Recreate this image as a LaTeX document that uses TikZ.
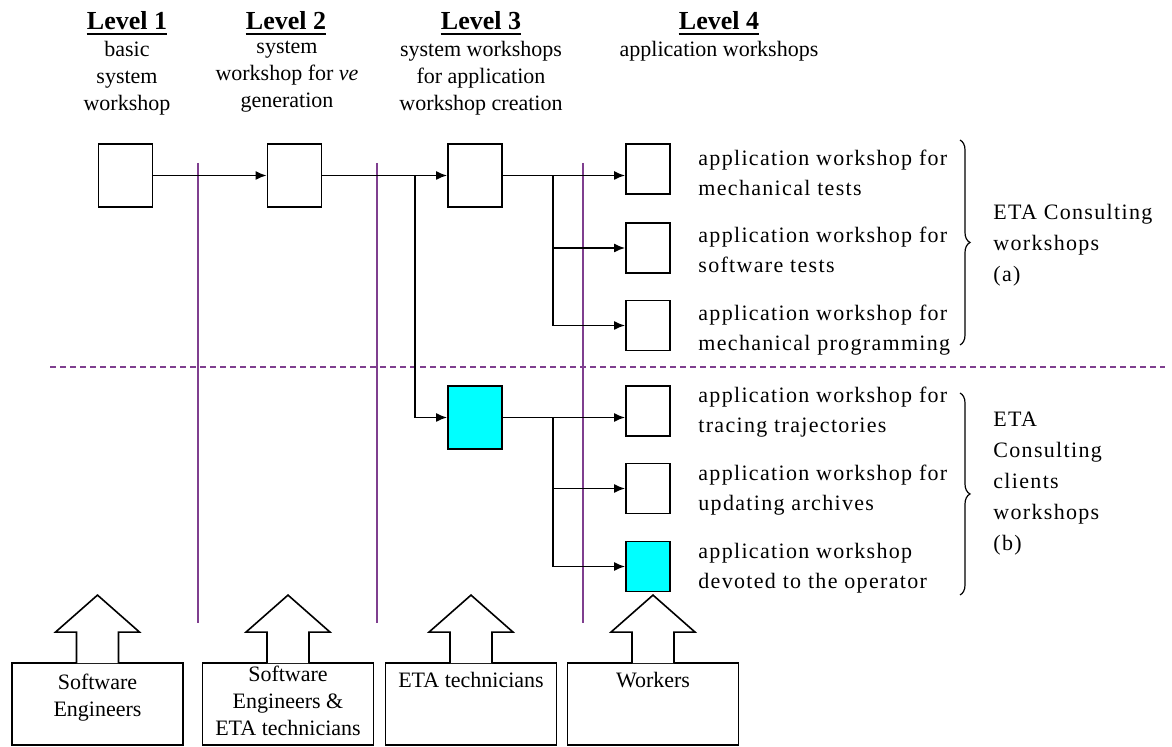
\documentclass[tikz,border=0pt]{standalone}
\usepackage{fontspec}
\setmainfont{Liberation Serif}
\usetikzlibrary{arrows.meta,decorations.pathreplacing}
\definecolor{divln}{HTML}{7F3F8F}
\definecolor{wscyan}{HTML}{00FFFF}

\begin{document}
\begin{tikzpicture}[x=0.5pt,y=-0.5pt,
    wsbox/.style={draw,line width=0.9pt,fill=white,minimum width=27pt,minimum height=31.5pt,inner sep=0pt},
    appbox/.style={draw,line width=0.9pt,fill=white,minimum width=22pt,minimum height=25pt,inner sep=0pt},
    teambox/.style={draw,line width=0.9pt,fill=white,minimum width=85.5pt,minimum height=41pt,inner sep=0pt},
    teamarrow/.style={draw,line width=0.8pt,fill=white,line join=miter},
    flow/.style={line width=0.8pt,-{Latex[length=5.5pt,width=4.5pt]}},
    divider/.style={divln,line width=0.7pt},
    lvltitle/.style={font=\fontsize{13}{15}\selectfont\bfseries,inner sep=0pt},
    lvlsub/.style={font=\fontsize{11}{13.5}\selectfont,align=center,anchor=north,inner sep=0pt},
    apptxt/.style={font=\fontsize{11}{15}\selectfont\addfontfeatures{LetterSpace=6},align=left,anchor=west,inner sep=0pt},
    grptxt/.style={font=\fontsize{11}{15.5}\selectfont\addfontfeatures{LetterSpace=6},align=left,anchor=west,inner sep=0pt},
    teamtxt/.style={font=\fontsize{11}{13.5}\selectfont,align=center,anchor=north,inner sep=0pt},
    grpbrace/.style={decorate,decoration={brace,amplitude=5pt},line width=0.6pt},
  ]
  \useasboundingbox (0,0) rectangle (1172,747);
  % level headings
  \node[lvltitle] (t1) at (127,21) {Level 1};
  \node[lvltitle] (t2) at (286,21) {Level 2};
  \node[lvltitle] (t3) at (481,21) {Level 3};
  \node[lvltitle] (t4) at (719,21) {Level 4};
  \foreach \t in {t1,t2,t3,t4}
    \draw[line width=1.1pt] ([yshift=-2pt]\t.base west) -- ([yshift=-2pt]\t.base east);
  \node[lvlsub] (s1) at (127,41) {basic\\system\\workshop};
  \node[lvlsub] (s2) at (287,41) {system\\workshop for \textit{ve}\\generation};
  \node[lvlsub] (s3) at (481,41) {system workshops\\for application\\workshop creation};
  \node[lvlsub] (s4) at (719,41) {application workshops};
  % dividers
  \foreach \x in {198,377,583}
    \draw[divider] (\x,163) -- (\x,623);
  \draw[divider,dash pattern=on 3pt off 2pt] (50,367) -- (1165,367);
  % workshops
  \node[wsbox] (l1) at (125.5,175.5) {};
  \node[wsbox] (l2) at (294.5,175.5) {};
  \node[wsbox] (l3) at (475,175.5) {};
  \node[wsbox,fill=wscyan] (l3b) at (475,417.5) {};
  \foreach \n/\y in {a1/169,a2/248,a3/325.5,b1/411,b2/488.5}
    \node[appbox] (\n) at (648,\y) {};
  \node[appbox,fill=wscyan] (b3) at (648,566.5) {};
  \coordinate (j1) at (415,175.5);
  \coordinate (j2) at (553,175.5);
  \coordinate (j3) at (553,417.5);
  \draw[flow] (l1) -- (l2);
  \draw[flow] (l2) -- (l3);
  \draw[flow] (j1) |- (l3b);
  \draw[flow] (l3) -- (l3 -| a1.west);
  \draw[flow] (j2) |- (a2);
  \draw[flow] (j2) |- (a3);
  \draw[flow] (l3b) -- (l3b -| b1.west);
  \draw[flow] (j3) |- (b2);
  \draw[flow] (j3) |- (b3);
  % application workshops
  \node[apptxt] (ta1) at (698,173) {application workshop for\\mechanical tests};
  \node[apptxt] (ta2) at (698,250) {application workshop for\\software tests};
  \node[apptxt] (ta3) at (698,330) {application workshop for\\mechanical programming};
  \node[apptxt] (tb1) at (698,412) {application workshop for\\tracing trajectories};
  \node[apptxt] (tb2) at (698,490) {application workshop for\\updating archives};
  \node[apptxt] (tb3) at (698,568) {application workshop\\devoted to the operator};
  \draw[grpbrace] (960,140) -- (960,345);
  \draw[grpbrace] (960,393) -- (960,595);
  \node[grptxt] (ga) at (993,245) {ETA Consulting\\workshops\\(a)};
  \node[grptxt] (gb) at (993,484) {ETA\\Consulting\\clients\\workshops\\(b)};
  % people
  \node[teambox] (p1) at (97.5,704) {};
  \node[teambox] (p2) at (288,704) {};
  \node[teambox] (p3) at (471,704) {};
  \node[teambox] (p4) at (653,704) {};
  \foreach \p in {p1,p2,p3,p4}
    \draw[teamarrow] ([xshift=-10.5pt,yshift=-0.5pt]\p.north) -- ++(0,-31) -- ++(-21,0)
      -- ++(42,-37) -- ++(42,37) -- ++(-21,0) -- ++(0,31);
  \node[teamtxt] (n1) at ([yshift=-6pt]p1.north) {Software\\Engineers};
  \node[teamtxt] (n2) at ([yshift=-2pt]p2.north) {Software\\Engineers \&\\ETA technicians};
  \node[teamtxt] (n3) at ([yshift=-5pt]p3.north) {ETA technicians};
  \node[teamtxt] (n4) at ([yshift=-5pt]p4.north) {Workers};
\end{tikzpicture}
\end{document}
